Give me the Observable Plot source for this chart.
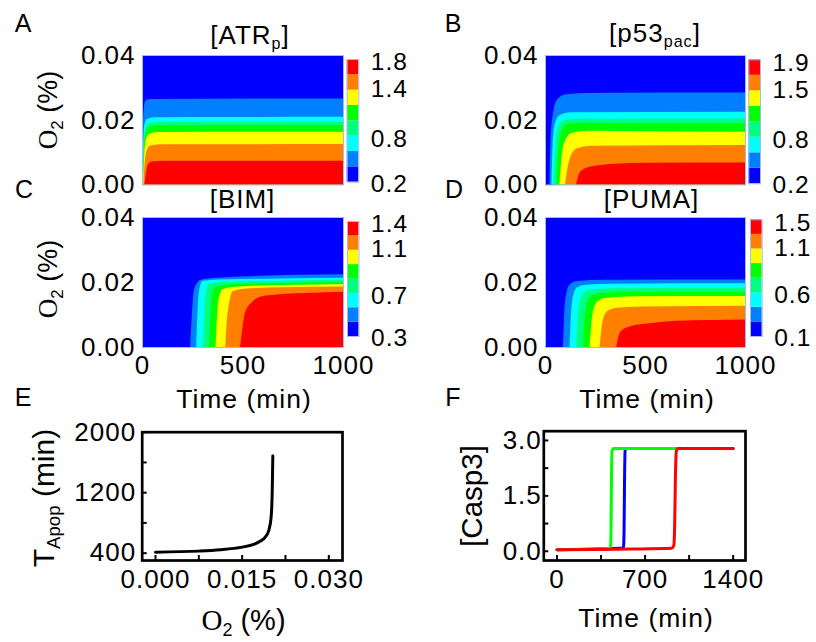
<!DOCTYPE html>
<html><head><meta charset="utf-8">
<script src="https://cdn.jsdelivr.net/npm/d3@7"></script>
<script src="https://cdn.jsdelivr.net/npm/@observablehq/plot@0.6"></script>
<style>
body{margin:0;background:#fff;}
#fig{position:relative;width:816px;height:642px;overflow:hidden;background:#fff;font-family:"Liberation Sans",Arial,sans-serif;color:#000;}
.t{position:absolute;white-space:nowrap;line-height:1;transform:translate(-50%,-50%);}
.r{transform:translate(-50%,-50%) rotate(-90deg);}
.sub{font-size:0.62em;position:relative;top:0.33em;}
.serif{font-family:"Liberation Serif","Times New Roman",serif;}
</style></head><body><div id="fig"></div>
<script>
// ---------- data ----------
const bandColors = ["#0000ff","#0080ff","#00ffff","#00ff80","#00ff00","#ffff00","#ff8000","#ff0000"];
const timeTicks = [0, 500, 1000];
const o2Ticks = [0, 0.02, 0.04];
const atrLabels = ["0.2","0.8","1.4","1.8"];
const p53Labels = ["0.2","0.8","1.5","1.9"];
const bimLabels = ["0.3","0.7","1.1","1.4"];
const pumaLabels = ["0.1","0.6","1.1","1.5"];
const cbLabelBand = [-0.1, 2.82, 6.05, 7.8]; // colour-bar label positions in band index units

// contour level boundaries: [time (min), O2 (%)]
const atrBounds = [
  [[1,0],[4,0.016],[8,0.023],[16,0.0258],[40,0.0264],[1000,0.0266]],
  [[2,0],[6,0.013],[12,0.0185],[25,0.0203],[60,0.0208],[1000,0.0209]],
  [[3,0],[8,0.012],[15,0.017],[30,0.0188],[70,0.0193],[1000,0.0194]],
  [[4,0],[10,0.011],[18,0.016],[35,0.0178],[80,0.0183],[1000,0.0184]],
  [[5,0],[12,0.010],[22,0.0145],[40,0.0158],[90,0.0162],[1000,0.0163]],
  [[7,0],[15,0.008],[26,0.011],[45,0.0121],[100,0.0124],[1000,0.0125]],
  [[12,0],[22,0.0045],[32,0.0065],[50,0.0071],[110,0.0073],[1000,0.0073]]
];
const p53Bounds = [
  [[22,0],[28,0.014],[40,0.022],[60,0.0262],[100,0.0278],[200,0.0283],[1000,0.0284]],
  [[32,0],[38,0.012],[50,0.019],[75,0.0215],[130,0.0223],[1000,0.0225]],
  [[42,0],[50,0.011],[62,0.017],[90,0.0196],[150,0.0203],[1000,0.0204]],
  [[55,0],[65,0.010],[80,0.016],[110,0.0188],[200,0.0191],[400,0.0189],[1000,0.0189]],
  [[72,0],[82,0.008],[100,0.0135],[130,0.0158],[200,0.0166],[350,0.0165],[1000,0.0163]],
  [[100,0],[112,0.005],[130,0.009],[160,0.0112],[230,0.0120],[1000,0.0122]],
  [[155,0],[165,0.0025],[185,0.0045],[250,0.0058],[350,0.0064],[500,0.0067],[1000,0.0068]]
];
const bimBounds = [
  [[240,0],[250,0.012],[258,0.0175],[275,0.0198],[289,0.0206],[372,0.0213],[537,0.0218],[1000,0.0224]],
  [[270,0],[277,0.012],[286,0.018],[300,0.0203],[380,0.0208],[700,0.0211],[1000,0.0213]],
  [[303,0],[310,0.011],[318,0.017],[335,0.0195],[420,0.0201],[700,0.0204],[1000,0.0206]],
  [[333,0],[340,0.010],[348,0.016],[365,0.0185],[450,0.0193],[700,0.0197],[1000,0.0199]],
  [[366,0],[373,0.009],[382,0.015],[400,0.0178],[480,0.0186],[700,0.0191],[1000,0.0193]],
  [[414,0],[422,0.008],[432,0.013],[453,0.0172],[520,0.0180],[700,0.0184],[1000,0.0186]],
  [[488,0],[500,0.006],[512,0.0104],[550,0.0140],[587,0.0155],[700,0.0163],[850,0.0167],[1000,0.0170]]
];
const pumaBounds = [
  [[90,0],[96,0.010],[105,0.016],[125,0.0193],[160,0.0203],[300,0.0207],[1000,0.0208]],
  [[123,0],[129,0.009],[138,0.015],[158,0.0182],[195,0.0191],[330,0.0195],[1000,0.0196]],
  [[156,0],[162,0.008],[172,0.0135],[192,0.0166],[230,0.0177],[360,0.0181],[1000,0.0182]],
  [[190,0],[196,0.007],[206,0.0125],[226,0.0154],[265,0.0165],[400,0.0169],[1000,0.0170]],
  [[223,0],[230,0.006],[240,0.011],[262,0.0140],[300,0.0151],[450,0.0156],[1000,0.0157]],
  [[273,0],[281,0.005],[292,0.009],[315,0.0112],[360,0.0121],[500,0.0125],[1000,0.0127]],
  [[356,0],[366,0.003],[385,0.0052],[430,0.0065],[492,0.0071],[658,0.0081],[1000,0.0085]]
];

// panel E
const eO2 = [0, 0.0075, 0.01125, 0.015, 0.017, 0.01817, 0.019, 0.01962, 0.02002, 0.0202, 0.02031];
const eTapop = [413, 427, 445, 480, 516, 560, 613, 703, 880, 1192, 1689];
const eXTicks = [0, 0.015, 0.03];
const eXMinor = [0.0075, 0.0225];
const eYTicks = [400, 1200, 2000];
const eYMinor = [800, 1600];

// panel F
const fBlueT = [0, 300, 528, 533, 537, 541, 550, 1400];
const fBlueC = [0.04, 0.06, 0.09, 0.6, 2.0, 2.72, 2.78, 2.78];
const fGreenT = [0, 300, 425, 429, 433, 437, 450, 1400];
const fGreenC = [0.04, 0.06, 0.08, 0.5, 2.0, 2.7, 2.78, 2.78];
const fRedT = [0, 300, 600, 910, 928, 935, 941, 948, 960, 1400];
const fRedC = [0.04, 0.05, 0.06, 0.08, 0.15, 0.7, 2.0, 2.7, 2.78, 2.78];
const fXTicks = [0, 700, 1400];
const fXMinor = [350, 1050];
const fYTicks = [0, 1.5, 3.0];
const fYMinor = [0.75, 2.25];

// ---------- drawing ----------
const W = 816, H = 642;
const fig = document.getElementById("fig");
const FONT = '"Liberation Sans", Arial, sans-serif';

function place(svg) {
  svg.style.position = "absolute";
  svg.style.left = "0px";
  svg.style.top = "0px";
  svg.style.background = "transparent";
  svg.style.overflow = "visible";
  svg.style.fontFamily = FONT;
  svg.style.fontSize = "26px";
  svg.style.letterSpacing = "1px";
  svg.style.maxWidth = "none";
  fig.appendChild(svg);
}
function frameMargins(f) {
  return {width: W, height: H, marginLeft: f[0], marginRight: W - f[1], marginTop: f[2], marginBottom: H - f[3]};
}

function heat(bounds, f, showX) {
  const marks = [
    Plot.frame({fill: bandColors[0]}),
    ...bounds.map((b, i) => Plot.areaY(b, {x: d => d[0], y: d => d[1], fill: bandColors[i + 1], curve: "monotone-x"})),
    Plot.frame({stroke: "#a9b9ee", strokeWidth: 1}),
    Plot.axisY({ticks: o2Ticks, tickFormat: d3.format(".2f"), tickSize: 0, tickPadding: 7, label: null})
  ];
  if (showX) marks.push(Plot.axisX({ticks: timeTicks, tickFormat: d => String(d), tickSize: 0, tickPadding: 8, label: null}));
  place(Plot.plot({
    ...frameMargins(f),
    x: {domain: [0, 1000], axis: showX ? undefined : null},
    y: {domain: [0, 0.04]},
    marks
  }));
}

function colorbar(labels, f) {
  const bands = bandColors.map((c, i) => ({i, c}));
  const lab = labels.map((l, i) => ({l, p: cbLabelBand[i]}));
  place(Plot.plot({
    ...frameMargins(f),
    x: {domain: [0, 1], axis: null},
    y: {domain: [0, 8], axis: null},
    marks: [
      Plot.rect(bands, {x1: 0, x2: 1, y1: d => d.i, y2: d => d.i + 1, fill: d => d.c}),
      Plot.frame({stroke: "#a9b9ee", strokeWidth: 1}),
      Plot.text(lab, {x: 1, y: "p", text: "l", textAnchor: "start", dx: 12, fontSize: 24.5})
    ]
  }));
}

heat(atrBounds, [142, 343, 55, 184.5], false);
heat(p53Bounds, [545, 745, 55, 184.5], false);
heat(bimBounds, [142, 343, 217, 347], true);
heat(pumaBounds, [545, 745, 217, 347], true);
colorbar(atrLabels, [346.7, 358.3, 59, 181.7]);
colorbar(p53Labels, [748.3, 760, 59.3, 183.3]);
colorbar(bimLabels, [347, 358.5, 221, 336]);
colorbar(pumaLabels, [750, 761.7, 219.3, 336]);

function linePanel(f, xdom, ydom, xt, xm, yt, ym, xfmt, yfmt, ypad, lines) {
  const fw = f[1] - f[0], fh = f[3] - f[2];
  place(Plot.plot({
    ...frameMargins(f),
    x: {domain: xdom},
    y: {domain: ydom},
    marks: [
      Plot.ruleX(xt.concat(xm), {insetTop: fh - 5, stroke: "black", strokeWidth: 2}),
      Plot.ruleY(yt.concat(ym), {insetRight: fw - 5, stroke: "black", strokeWidth: 2}),
      ...lines.map(L => Plot.line(L.x.map((x, i) => ({x, y: L.y[i]})), {x: "x", y: "y", stroke: L.color, strokeWidth: 3, curve: "monotone-x"})),
      Plot.frame({stroke: "black", strokeWidth: 2.7}),
      Plot.axisX({ticks: xt, tickFormat: xfmt, tickSize: 0, tickPadding: 9, label: null}),
      Plot.axisY({ticks: yt, tickFormat: yfmt, tickSize: 0, tickPadding: ypad, label: null})
    ]
  }));
}

linePanel([141.7, 342, 431.7, 560], [-0.0023, 0.03237], [303, 2000],
  eXTicks, eXMinor, eYTicks, eYMinor, d3.format(".3f"), d3.format("d"), 6,
  [{x: eO2, y: eTapop, color: "black"}]);
linePanel([543.3, 745, 430.7, 560], [-105, 1498], [-0.25, 3.25],
  fXTicks, fXMinor, fYTicks, fYMinor, d => String(d), d3.format(".1f"), 2,
  [{x: fBlueT, y: fBlueC, color: "#0000ff"}, {x: fGreenT, y: fGreenC, color: "#00ff00"}, {x: fRedT, y: fRedC, color: "#ff0000"}]);

// ---------- text ----------
function txt(html, x, y, size, opts = {}) {
  const d = document.createElement("div");
  d.className = "t" + (opts.rot ? " r" : "");
  d.innerHTML = html;
  d.style.left = x + "px";
  d.style.top = y + "px";
  d.style.fontSize = size + "px";
  d.style.letterSpacing = (opts.ls ?? 1) + "px";
  fig.appendChild(d);
}
const o2Label = '<span class="serif">O</span><span class="sub">2</span> (%)';
txt("A", 23, 23, 25, {ls: 0});
txt("B", 453, 23, 25, {ls: 0});
txt("C", 24, 189, 25, {ls: 0});
txt("D", 454, 189, 25, {ls: 0});
txt("E", 23, 397, 25, {ls: 0});
txt("F", 453, 397, 25, {ls: 0});
txt('[ATR<span class="sub">p</span>]', 250, 34.5, 26);
txt('[p53<span class="sub">pac</span>]', 655, 33, 26);
txt("[BIM]", 242.5, 199, 26);
txt("[PUMA]", 651.5, 199, 26);
txt("Time (min)", 244, 399, 26.5);
txt("Time (min)", 647, 399, 26.5);
txt("Time (min)", 646, 618, 26.5);
txt(o2Label, 48, 110, 27, {rot: true, ls: 0});
txt(o2Label, 48, 279, 27, {rot: true, ls: 0});
txt(o2Label, 243.5, 620, 29, {ls: 0});
txt('T<span class="sub">Apop</span> (min)', 44, 497.5, 30, {rot: true, ls: 0});
txt("[Casp3]", 472, 496, 29.5, {rot: true, ls: 0});
</script></body></html>
